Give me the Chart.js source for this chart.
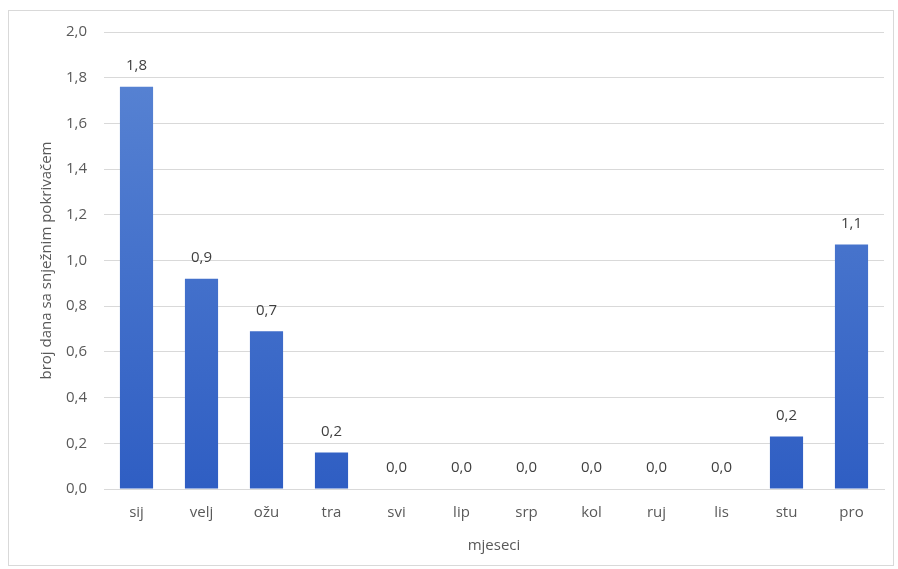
<!DOCTYPE html>
<html>
<head>
<meta charset="utf-8">
<script src="https://cdn.jsdelivr.net/npm/chart.js@4/dist/chart.umd.min.js"></script>
<style>
  html, body { margin: 0; padding: 0; background: #ffffff; }
  #frame { position: absolute; left: 8px; top: 10px; width: 884px; height: 554px; border: 1px solid #d9d9d9; background: #fff; }
  #c { display: block; }
</style>
</head>
<body>
<div id="frame"><canvas id="c" width="884" height="554"></canvas></div>
<script>
const months = ['sij', 'velj', 'ožu', 'tra', 'svi', 'lip', 'srp', 'kol', 'ruj', 'lis', 'stu', 'pro'];
const snowDays = [1.76, 0.92, 0.69, 0.16, 0, 0, 0, 0, 0, 0, 0.23, 1.07];
const yTitle = 'broj dana sa snježnim pokrivačem';
const xTitle = 'mjeseci';

const fmt = v => (Math.round(v * 10) / 10).toFixed(1).replace('.', ',');
const FONT = "'Open Sans', 'Liberation Sans', sans-serif";
const TXT = '#595959';

const labelPlugin = {
  id: 'valueLabels',
  afterDatasetsDraw(chart) {
    const ctx = chart.ctx;
    const meta = chart.getDatasetMeta(0);
    ctx.save();
    ctx.font = '15px ' + FONT;
    ctx.fillStyle = '#404040';
    ctx.textAlign = 'center';
    ctx.textBaseline = 'middle';
    meta.data.forEach((bar, i) => {
      ctx.fillText(fmt(snowDays[i]), bar.x, bar.y - 21);
    });
    ctx.restore();
  }
};

const ctx = document.getElementById('c').getContext('2d');
new Chart(ctx, {
  type: 'bar',
  data: {
    labels: months,
    datasets: [{
      data: snowDays,
      backgroundColor: (c) => {
        const area = c.chart.chartArea;
        if (!area) return '#3a68c8';
        const g = c.chart.ctx.createLinearGradient(0, area.top, 0, area.bottom);
        g.addColorStop(0, '#5b86d4');
        g.addColorStop(1, '#2f5ec3');
        return g;
      },
      borderWidth: 0,
      barPercentage: 0.51,
      categoryPercentage: 1.0
    }]
  },
  options: {
    responsive: false,
    animation: false,
    layout: { padding: { left: 29, right: 9, top: 21, bottom: 10 } },
    plugins: {
      legend: { display: false },
      tooltip: { enabled: false }
    },
    scales: {
      x: {
        grid: { display: false, drawTicks: false },
        border: { display: true, color: '#d9d9d9' },
        ticks: { color: TXT, font: { family: FONT, size: 15 }, padding: 15 },
        title: { display: true, text: xTitle, color: TXT, font: { family: FONT, size: 15 }, padding: { top: 0, bottom: 0 } }
      },
      y: {
        min: 0, max: 2,
        afterFit: s => { s.width = 66; s.paddingTop = 0; s.paddingBottom = 0; },
        ticks: { stepSize: 0.2, color: TXT, font: { family: FONT, size: 15 }, padding: 17,
                 callback: v => fmt(v) },
        grid: { color: '#d9d9d9', drawTicks: false },
        border: { display: false },
        title: { display: true, text: yTitle, color: TXT, font: { family: FONT, size: 15 }, padding: { top: 0, bottom: 0 } }
      }
    }
  },
  plugins: [labelPlugin]
});
</script>
</body>
</html>
